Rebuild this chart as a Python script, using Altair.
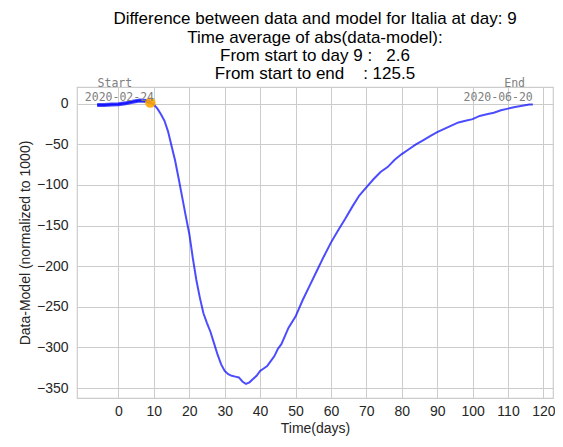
import altair as alt
import pandas as pd

days = [-6, -4, -2, 0, 2, 4, 6, 8, 9, 10, 11, 12, 13, 14, 15, 16, 17, 18, 19, 20,
        21, 22, 23, 24, 25, 26, 27, 28, 29, 30, 31, 32, 33, 34, 35, 36, 37, 38, 39, 40,
        41, 42, 43, 44, 45, 46, 47, 48, 50, 52, 54, 56, 58, 60, 62, 64, 66, 68, 70, 72,
        74, 76, 78, 80, 82, 84, 86, 88, 90, 92, 94, 96, 98, 100, 102, 104, 106, 108, 110,
        112, 114, 116, 117]
diff = [-1.5, -1.5, -1.0, -0.5, 0.5, 2.5, 4.0, 3.5, 1.5, -1, -6, -13, -21, -34, -52, -70, -92, -115, -138, -160,
        -190, -217, -239, -258, -270, -281, -295, -309, -321, -329, -333, -335, -336, -337, -342, -345, -343, -339, -335, -329,
        -326, -323, -317, -311, -302, -296, -286, -276, -262, -242, -224, -206, -188, -171, -156, -142, -127, -113, -103, -93,
        -84, -78, -69, -62, -56, -50, -45, -40, -35, -31, -27, -23, -21, -19, -15, -13, -11, -8, -6,
        -4, -2.5, -1, -1]

current_day = 9
x_ticks = list(range(0, 121, 10))
y_ticks = list(range(-350, 1, 50))

title_lines = [
    "Difference between data and model for Italia at day: 9",
    "Time average of abs(data-model):",
    "From start to day 9 :\u00a0\u00a0\u00a02.6",
    "From start to end\u00a0\u00a0\u00a0\u00a0: 125.5",
]

ann_text = ["Start", "2020-02-24", "End", "2020-06-20"]
ann_x = [-5.9, -9.5, 114.8, 117.0]
ann_y = [24.0, 7.4, 24.0, 7.4]
ann_align = ["left", "left", "right", "right"]

df = pd.DataFrame({"day": days, "diff": diff})
df_cur = df[df["day"] <= current_day]
df_pt = df[df["day"] == current_day]
df_ann = pd.DataFrame({"day": ann_x, "diff": ann_y, "t": ann_text, "a": ann_align})

xs = alt.Scale(domain=[-11.7, 122.7], nice=False, zero=False)
ys = alt.Scale(domain=[-362.3, 20.6], nice=False, zero=False)

X = alt.X("day:Q", scale=xs, title="Time(days)",
          axis=alt.Axis(values=x_ticks, format="d", labelOverlap=False))
Y = alt.Y("diff:Q", scale=ys, title="Data-Model (normalized to 1000)",
          axis=alt.Axis(values=y_ticks, format="d", labelOverlap=False))

full = alt.Chart(df).mark_line(color="blue", opacity=0.7, strokeWidth=2).encode(x=X, y=Y)
cur = alt.Chart(df_cur).mark_line(color="blue", opacity=0.7, strokeWidth=4).encode(x=X, y=Y)
pt = alt.Chart(df_pt).mark_point(filled=True, color="orange", size=110, opacity=0.9).encode(x=X, y=Y)

ann_left = alt.Chart(df_ann[df_ann["a"] == "left"]).mark_text(
    align="left", baseline="middle", font="DejaVu Sans Mono", fontSize=11.5,
    color="gray", clip=False
).encode(x=X, y=Y, text="t:N")
ann_right = alt.Chart(df_ann[df_ann["a"] == "right"]).mark_text(
    align="right", baseline="middle", font="DejaVu Sans Mono", fontSize=11.5,
    color="gray", clip=False
).encode(x=X, y=Y, text="t:N")

chart = alt.layer(full, cur, pt, ann_left, ann_right).properties(
    width=476, height=311,
    background="white",
    autosize=alt.AutoSizeParams(type="none"),
    padding={"left": 69, "top": 79, "right": 2, "bottom": 40},
    title=alt.TitleParams(text=title_lines, fontSize=17, font="Liberation Sans",
                          fontWeight="normal", color="black", lineHeight=18.3,
                          anchor="middle", offset=-5),
).configure_view(
    stroke="#cccccc", strokeWidth=1.2
).configure_axis(
    domain=False, ticks=False, grid=True, gridColor="#cccccc", gridWidth=1,
    labelFont="Liberation Sans", labelFontSize=14, labelColor="#262626",
    titleFont="Liberation Sans", titleFontSize=14, titleFontWeight="normal",
    titleColor="#262626",
).configure_axisX(labelPadding=6, titlePadding=3).configure_axisY(
    labelPadding=9, titlePadding=4
)

chart.save("out.html", embed_options={"renderer": "svg", "actions": False})
